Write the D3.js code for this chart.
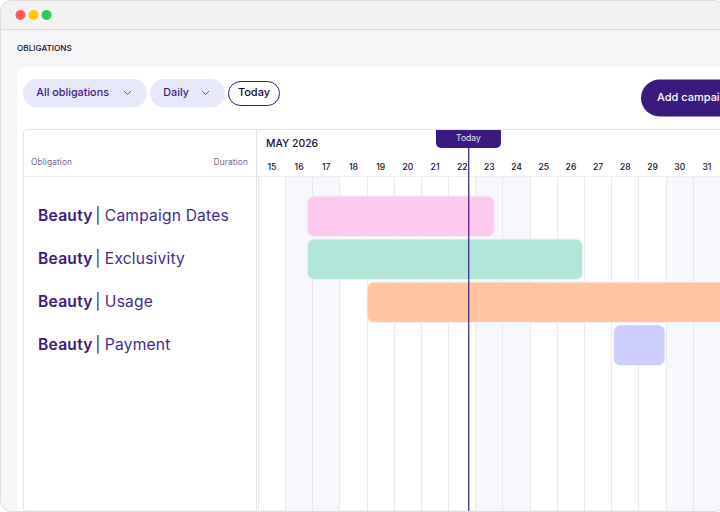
<!DOCTYPE html>
<html><head><meta charset="utf-8">
<script src="https://cdn.jsdelivr.net/npm/d3@7"></script>
<style>html,body{margin:0;padding:0;background:#fff;overflow:hidden}svg{display:block}text{font-family:Inter,"Open Sans",sans-serif}</style>
</head><body><svg id="c" width="720" height="512"></svg>
<script>
const days=[15,16,17,18,19,20,21,22,23,24,25,26,27,28,29,30,31];
const weekendDays=[16,17,23,24,30,31];
const obligations=["Campaign Dates","Exclusivity","Usage","Payment"];
const group="Beauty";
const starts=[16.8,16.8,19.0,28.07];
const ends=[23.68,26.93,34,29.96];
const barColors=["#fdc9ee","#b2e6d9","#fec5a0","#cdcdfc"];
const todayValue=22.74;
const filters=["All obligations","Daily"];
const purple="#3b1a80";

const svg=d3.select("#c");
const x=d3.scaleLinear().domain([15,32]).range([258.3,720.5]);
const dw=x(16)-x(15);
const y=d3.scaleBand().domain(obligations).range([194.5,366.5]).paddingInner(0);
const snap=v=>Math.floor(v)+0.5;

// window
svg.append("defs").append("clipPath").attr("id","win").append("rect").attr("x",0.5).attr("y",0.5).attr("width",725).attr("height",511).attr("rx",11);
const g=svg.append("g").attr("clip-path","url(#win)");
g.append("rect").attr("width",720).attr("height",512).attr("fill","#f6f6f9");
g.append("rect").attr("width",720).attr("height",29).attr("fill","#f2f2f2");
g.append("line").attr("x1",0).attr("x2",720).attr("y1",29.5).attr("y2",29.5).attr("stroke","#dcdce0");
g.selectAll("circle.dot").data(["#ff5a5f","#ffc800","#2fc95a"]).join("circle").attr("cx",(d,i)=>20.5+i*13).attr("cy",15).attr("r",5).attr("fill",d=>d);
g.append("text").attr("x",17).attr("y",51).attr("font-size",8.2).attr("font-weight",500).attr("fill","#14102e").text("OBLIGATIONS");

// card
g.append("rect").attr("x",17).attr("y",67).attr("width",720).attr("height",460).attr("rx",8).attr("fill","#fff");

// pills
const pills=[{x:23,w:124},{x:150,w:75}];
g.selectAll("rect.pill").data(pills).join("rect").attr("x",d=>d.x).attr("y",79).attr("width",d=>d.w).attr("height",28.5).attr("rx",14.2).attr("fill","#e8e8fb");
g.selectAll("text.pill").data(filters).join("text").attr("x",(d,i)=>pills[i].x+13.3).attr("y",96).attr("font-size",10.8).attr("font-weight",450).attr("fill",purple).text(d=>d);
g.selectAll("path.chev").data([127.5,205.5]).join("path").attr("d",d=>`M${d-3.5} 91 L${d} 94.5 L${d+3.5} 91`).attr("fill","none").attr("stroke","#6a5aa0").attr("stroke-width",1);
g.append("rect").attr("x",228.5).attr("y",81.5).attr("width",51).attr("height",24).attr("rx",12).attr("fill","#fff").attr("stroke",purple);
g.append("text").attr("x",254).attr("y",96).attr("text-anchor","middle").attr("font-size",11).attr("font-weight",450).attr("fill","#14102e").text("Today");
g.append("rect").attr("x",641).attr("y",79.5).attr("width",120).attr("height",37).attr("rx",18.5).attr("fill",purple);
g.append("text").attr("x",657).attr("y",101).attr("font-size",11).attr("font-weight",450).attr("fill","#fff").text("Add campaign");

// table frame
g.append("rect").attr("x",23.5).attr("y",129.5).attr("width",720).attr("height",381.5).attr("rx",3).attr("fill","#fff").attr("stroke","#e4e4e8");
g.append("line").attr("x1",24).attr("x2",720).attr("y1",176.5).attr("y2",176.5).attr("stroke","#efeff2");
g.append("line").attr("x1",256.5).attr("x2",256.5).attr("y1",130).attr("y2",511).attr("stroke","#e4e4e8");

// weekends and grid
const gridTop=177,gridBot=510.5;
g.selectAll("rect.we").data(weekendDays).join("rect").attr("x",d=>x(d)).attr("y",gridTop).attr("width",dw).attr("height",gridBot-gridTop).attr("fill","#f7f8fd");
g.selectAll("line.grid").data(days).join("line").attr("x1",d=>snap(x(d))).attr("x2",d=>snap(x(d))).attr("y1",gridTop).attr("y2",gridBot).attr("stroke","#e9e9ed");

// header
g.append("text").attr("x",31).attr("y",165).attr("font-size",8.4).attr("letter-spacing",0.1).attr("fill","#6f6890").text("Obligation");
g.append("text").attr("x",248).attr("y",165).attr("text-anchor","end").attr("font-size",8.4).attr("letter-spacing",0.1).attr("fill","#6f6890").text("Duration");
g.append("text").attr("x",266).attr("y",147).attr("font-size",10.4).attr("font-weight",450).attr("fill","#14102e").text("MAY 2026");

const band=d3.scaleBand().domain(days.map(String)).range([x(15),x(32)]);
const ax=g.append("g").attr("transform","translate(0,170)").call(d3.axisTop(band).tickSize(0).tickPadding(0));
ax.select(".domain").remove();
ax.selectAll("text").attr("font-size",8.6).attr("font-weight",500).attr("fill","#14102e").attr("font-family","Inter");

// bars
g.selectAll("rect.bar").data(obligations).join("rect")
 .attr("x",(d,i)=>x(starts[i])).attr("width",(d,i)=>x(ends[i])-x(starts[i]))
 .attr("y",d=>y(d)+1.5).attr("height",y.bandwidth()-2.5).attr("rx",7)
 .attr("fill",(d,i)=>barColors[i]).attr("stroke","#f1f1f6").attr("stroke-width",1);

// labels
const lab=g.selectAll("text.lab").data(obligations).join("text").attr("x",38).attr("y",d=>y(d)+y.bandwidth()/2+4.5).attr("font-size",15.6).attr("fill","#452a8e");
lab.append("tspan").attr("font-weight",600).attr("letter-spacing",0.25).attr("fill",purple).text(group);
lab.append("tspan").attr("dx",2.6).attr("font-weight",400).attr("fill",purple).text("|");
lab.append("tspan").attr("dx",4.4).attr("letter-spacing",0.18).text(d=>d);

// today
g.append("line").attr("x1",x(todayValue)).attr("x2",x(todayValue)).attr("y1",148).attr("y2",512).attr("stroke",purple).attr("stroke-width",1.2);
g.append("path").attr("d","M436 130H501V143a5 5 0 0 1-5 5H441a5 5 0 0 1-5-5Z").attr("fill",purple);
g.append("text").attr("x",468.5).attr("y",141).attr("text-anchor","middle").attr("font-size",8.6).attr("fill","#e8e4f6").text("Today");

// window outline
svg.append("rect").attr("x",0.5).attr("y",0.5).attr("width",725).attr("height",511).attr("rx",11).attr("fill","none").attr("stroke","#dedee2");
</script></body></html>
